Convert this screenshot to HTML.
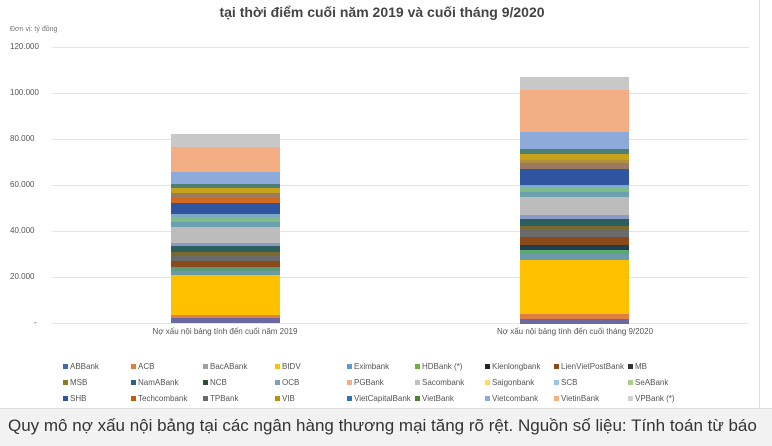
<!DOCTYPE html>
<html><head><meta charset="utf-8"><style>
body{margin:0;width:772px;height:445px;background:#fff;position:relative;overflow:hidden;font-family:"Liberation Sans",sans-serif}
.a{position:absolute}
.g{position:absolute;left:52px;width:697px;height:1px;background:#e4e4e4}
.yl{position:absolute;left:10px;font-size:8px;color:#555}
.s{position:absolute;left:0;width:100%}
.lg{position:absolute;font-size:8px;color:#555;white-space:nowrap}
.lg i{display:inline-block;width:5px;height:5px;margin-right:2px;vertical-align:0px}
</style></head><body>
<div class="a" style="left:0;top:4px;width:764px;text-align:center;font-size:14px;font-weight:bold;color:#444">tại thời điểm cuối năm 2019 và cuối tháng 9/2020</div>
<div class="a" style="left:10px;top:26px;font-size:7px;color:#777">Đơn vị: tỷ đồng</div>
<div class="a" style="left:759px;top:0;width:1px;height:408px;background:#ddd"></div>
<div class="g" style="top:47px"></div><div class="g" style="top:93px"></div><div class="g" style="top:139px"></div><div class="g" style="top:185px"></div><div class="g" style="top:231px"></div><div class="g" style="top:277px"></div><div class="g" style="top:323px"></div>
<div class="yl" style="top:42px">120.000</div><div class="yl" style="top:88px">100.000</div><div class="yl" style="top:134px">80.000</div><div class="yl" style="top:180px">60.000</div><div class="yl" style="top:226px">40.000</div><div class="yl" style="top:272px">20.000</div><div class="yl" style="top:318px;left:34px">-</div>

<div class="a" style="left:171px;top:134px;width:109px;height:190px">
<div class="s" style="top:0;height:13px;background:#c8c8c8"></div>
<div class="s" style="top:13px;height:25px;background:#f3ae84"></div>
<div class="s" style="top:38px;height:12px;background:#8eaadb"></div>
<div class="s" style="top:50px;height:4px;background:#4f7f73"></div>
<div class="s" style="top:54px;height:5px;background:#c9a21c"></div>
<div class="s" style="top:59px;height:5px;background:#9a7a60"></div>
<div class="s" style="top:64px;height:5px;background:#d2691e"></div>
<div class="s" style="top:69px;height:11px;background:#2f55a0"></div>
<div class="s" style="top:80px;height:3px;background:#7fa8c8"></div>
<div class="s" style="top:83px;height:5px;background:#7dbb8c"></div>
<div class="s" style="top:88px;height:5px;background:#6aa0b0"></div>
<div class="s" style="top:93px;height:16px;background:#bcbcbc"></div>
<div class="s" style="top:109px;height:3px;background:#8a9ac8"></div>
<div class="s" style="top:112px;height:6px;background:#2d5f5f"></div>
<div class="s" style="top:118px;height:4px;background:#7a6a30"></div>
<div class="s" style="top:122px;height:5px;background:#6a6a6a"></div>
<div class="s" style="top:127px;height:6px;background:#8a4a1a"></div>
<div class="s" style="top:133px;height:4px;background:#5a9a80"></div>
<div class="s" style="top:137px;height:4px;background:#6a9aa8"></div>
<div class="s" style="top:141px;height:40px;background:#ffc000"></div>
<div class="s" style="top:181px;height:3px;background:#e08040"></div>
<div class="s" style="top:184px;height:5px;background:#6a6aa0"></div>
</div>

<div class="a" style="left:520px;top:77px;width:109px;height:247px">
<div class="s" style="top:0;height:13px;background:#c8c8c8"></div>
<div class="s" style="top:13px;height:42px;background:#f3ae84"></div>
<div class="s" style="top:55px;height:17px;background:#8eaadb"></div>
<div class="s" style="top:72px;height:5px;background:#4f7f73"></div>
<div class="s" style="top:77px;height:6px;background:#c9a21c"></div>
<div class="s" style="top:83px;height:3px;background:#b09040"></div>
<div class="s" style="top:86px;height:6px;background:#9a7a60"></div>
<div class="s" style="top:92px;height:16px;background:#2f55a0"></div>
<div class="s" style="top:108px;height:2px;background:#7fa8c8"></div>
<div class="s" style="top:110px;height:5px;background:#7dbb8c"></div>
<div class="s" style="top:115px;height:5px;background:#6aa0b0"></div>
<div class="s" style="top:120px;height:18px;background:#bcbcbc"></div>
<div class="s" style="top:138px;height:4px;background:#8a9ac8"></div>
<div class="s" style="top:142px;height:7px;background:#2d5f5f"></div>
<div class="s" style="top:149px;height:4px;background:#7a6a30"></div>
<div class="s" style="top:153px;height:7px;background:#6a6a6a"></div>
<div class="s" style="top:160px;height:8px;background:#8a4a1a"></div>
<div class="s" style="top:168px;height:5px;background:#1e3f4f"></div>
<div class="s" style="top:173px;height:4px;background:#5aaa70"></div>
<div class="s" style="top:177px;height:6px;background:#6a9aa8"></div>
<div class="s" style="top:183px;height:54px;background:#ffc000"></div>
<div class="s" style="top:237px;height:5px;background:#e08040"></div>
<div class="s" style="top:242px;height:5px;background:#6a6aa0"></div>
</div>

<div class="a" style="left:120px;top:327px;width:210px;text-align:center;font-size:8px;color:#555">Nợ xấu nội bảng tính đến cuối năm 2019</div>
<div class="a" style="left:465px;top:327px;width:220px;text-align:center;font-size:8px;color:#555">Nợ xấu nội bảng tính đến cuối tháng 9/2020</div>

<div class="lg" style="left:63px;top:362px"><i style="background:#4466aa"></i>ABBank</div>
<div class="lg" style="left:131px;top:362px"><i style="background:#e08040"></i>ACB</div>
<div class="lg" style="left:203px;top:362px"><i style="background:#a0a0a0"></i>BacABank</div>
<div class="lg" style="left:275px;top:362px"><i style="background:#ffc000"></i>BIDV</div>
<div class="lg" style="left:347px;top:362px"><i style="background:#5b9bd5"></i>Eximbank</div>
<div class="lg" style="left:415px;top:362px"><i style="background:#70ad47"></i>HDBank (*)</div>
<div class="lg" style="left:485px;top:362px"><i style="background:#223"></i>Kienlongbank</div>
<div class="lg" style="left:554px;top:362px"><i style="background:#8a4a1a"></i>LienVietPostBank</div>
<div class="lg" style="left:628px;top:362px"><i style="background:#333"></i>MB</div>
<div class="lg" style="left:63px;top:378px"><i style="background:#8a7a20"></i>MSB</div>
<div class="lg" style="left:131px;top:378px"><i style="background:#2d5f7f"></i>NamABank</div>
<div class="lg" style="left:203px;top:378px"><i style="background:#2d4f2f"></i>NCB</div>
<div class="lg" style="left:275px;top:378px"><i style="background:#7f9fbf"></i>OCB</div>
<div class="lg" style="left:347px;top:378px"><i style="background:#f3ae84"></i>PGBank</div>
<div class="lg" style="left:415px;top:378px"><i style="background:#c0c0c0"></i>Sacombank</div>
<div class="lg" style="left:485px;top:378px"><i style="background:#ffd966"></i>Saigonbank</div>
<div class="lg" style="left:554px;top:378px"><i style="background:#9dc3e6"></i>SCB</div>
<div class="lg" style="left:628px;top:378px"><i style="background:#a9d18e"></i>SeABank</div>
<div class="lg" style="left:63px;top:394px"><i style="background:#2f55a0"></i>SHB</div>
<div class="lg" style="left:131px;top:394px"><i style="background:#c55a11"></i>Techcombank</div>
<div class="lg" style="left:203px;top:394px"><i style="background:#6a6a6a"></i>TPBank</div>
<div class="lg" style="left:275px;top:394px"><i style="background:#bf9000"></i>VIB</div>
<div class="lg" style="left:347px;top:394px"><i style="background:#2e75b6"></i>VietCapitalBank</div>
<div class="lg" style="left:415px;top:394px"><i style="background:#548235"></i>VietBank</div>
<div class="lg" style="left:485px;top:394px"><i style="background:#8faadc"></i>Vietcombank</div>
<div class="lg" style="left:554px;top:394px"><i style="background:#f4b183"></i>VietinBank</div>
<div class="lg" style="left:628px;top:394px"><i style="background:#d0d0d0"></i>VPBank (*)</div>

<div class="a" style="left:0;top:408px;width:772px;height:37px;background:#f2f2f2;border-top:1px solid #ddd"></div>
<div class="a" style="left:8px;top:416px;font-size:17px;color:#333;white-space:nowrap">Quy mô nợ xấu nội bảng tại các ngân hàng thương mại tăng rõ rệt. Nguồn số liệu: Tính toán từ báo</div>
</body></html>
